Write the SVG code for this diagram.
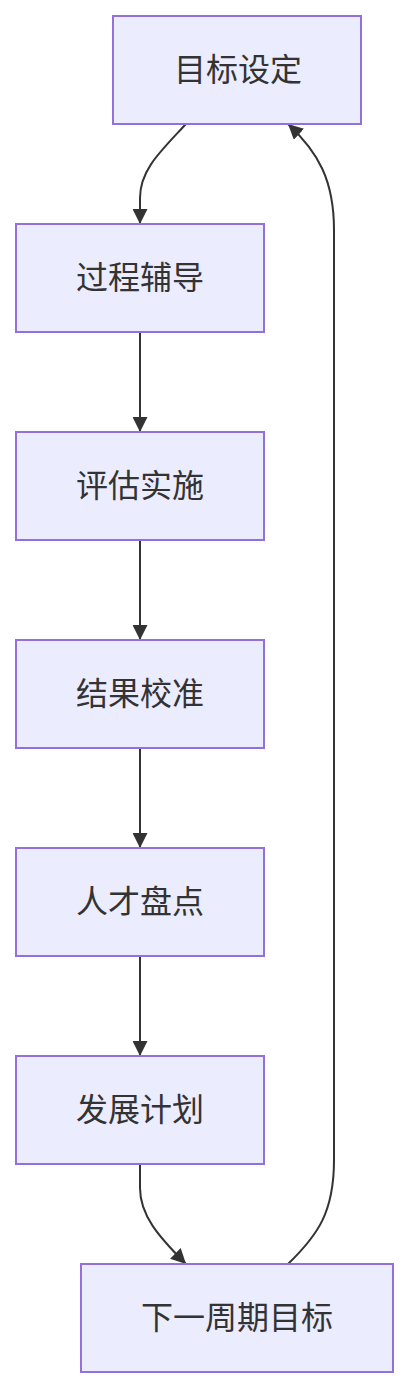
<svg xmlns="http://www.w3.org/2000/svg" width="409" height="1388" viewBox="0 0 409 1388">
<style>
.node rect{fill:#ECECFF;stroke:#9370DB;stroke-width:2}
.node text{font-family:"Noto Sans CJK SC","Noto Sans",sans-serif;font-size:32px;fill:#333;text-anchor:middle;dominant-baseline:central}
.edge{fill:none;stroke:#333;stroke-width:2}
</style>
<defs>
<marker id="arr" viewBox="0 0 10 10" refX="10" refY="5" markerUnits="userSpaceOnUse" markerWidth="15" markerHeight="15" orient="auto">
<path d="M0,0 L10,5 L0,10 z" fill="#333"/>
</marker>
</defs>
<g id="edges">
<path class="edge" marker-end="url(#arr)" d="M186,124 C160,152 140,170 140,198 L140,224"/>
<path class="edge" marker-end="url(#arr)" d="M140,332 L140,432"/>
<path class="edge" marker-end="url(#arr)" d="M140,540 L140,640"/>
<path class="edge" marker-end="url(#arr)" d="M140,748 L140,848"/>
<path class="edge" marker-end="url(#arr)" d="M140,956 L140,1056"/>
<path class="edge" marker-end="url(#arr)" d="M140,1164 L140,1188 C140,1215 158,1236 186,1264"/>
<path class="edge" marker-end="url(#arr)" d="M288,1264 C318,1235 334,1212 334,1160 L334,230 C334,180 318,152 288,124"/>
</g>
<g id="n1" class="node"><rect x="113" y="16" width="248" height="108"/><text x="238" y="67">目标设定</text></g>
<g id="n2" class="node"><rect x="16" y="224" width="248" height="108"/><text x="140" y="275">过程辅导</text></g>
<g id="n3" class="node"><rect x="16" y="432" width="248" height="108"/><text x="140" y="483">评估实施</text></g>
<g id="n4" class="node"><rect x="16" y="640" width="248" height="108"/><text x="140" y="691">结果校准</text></g>
<g id="n5" class="node"><rect x="16" y="848" width="248" height="108"/><text x="140" y="899">人才盘点</text></g>
<g id="n6" class="node"><rect x="16" y="1056" width="248" height="108"/><text x="140" y="1107">发展计划</text></g>
<g id="n7" class="node"><rect x="81" y="1264" width="312" height="108"/><text x="237" y="1315">下一周期目标</text></g>
</svg>
